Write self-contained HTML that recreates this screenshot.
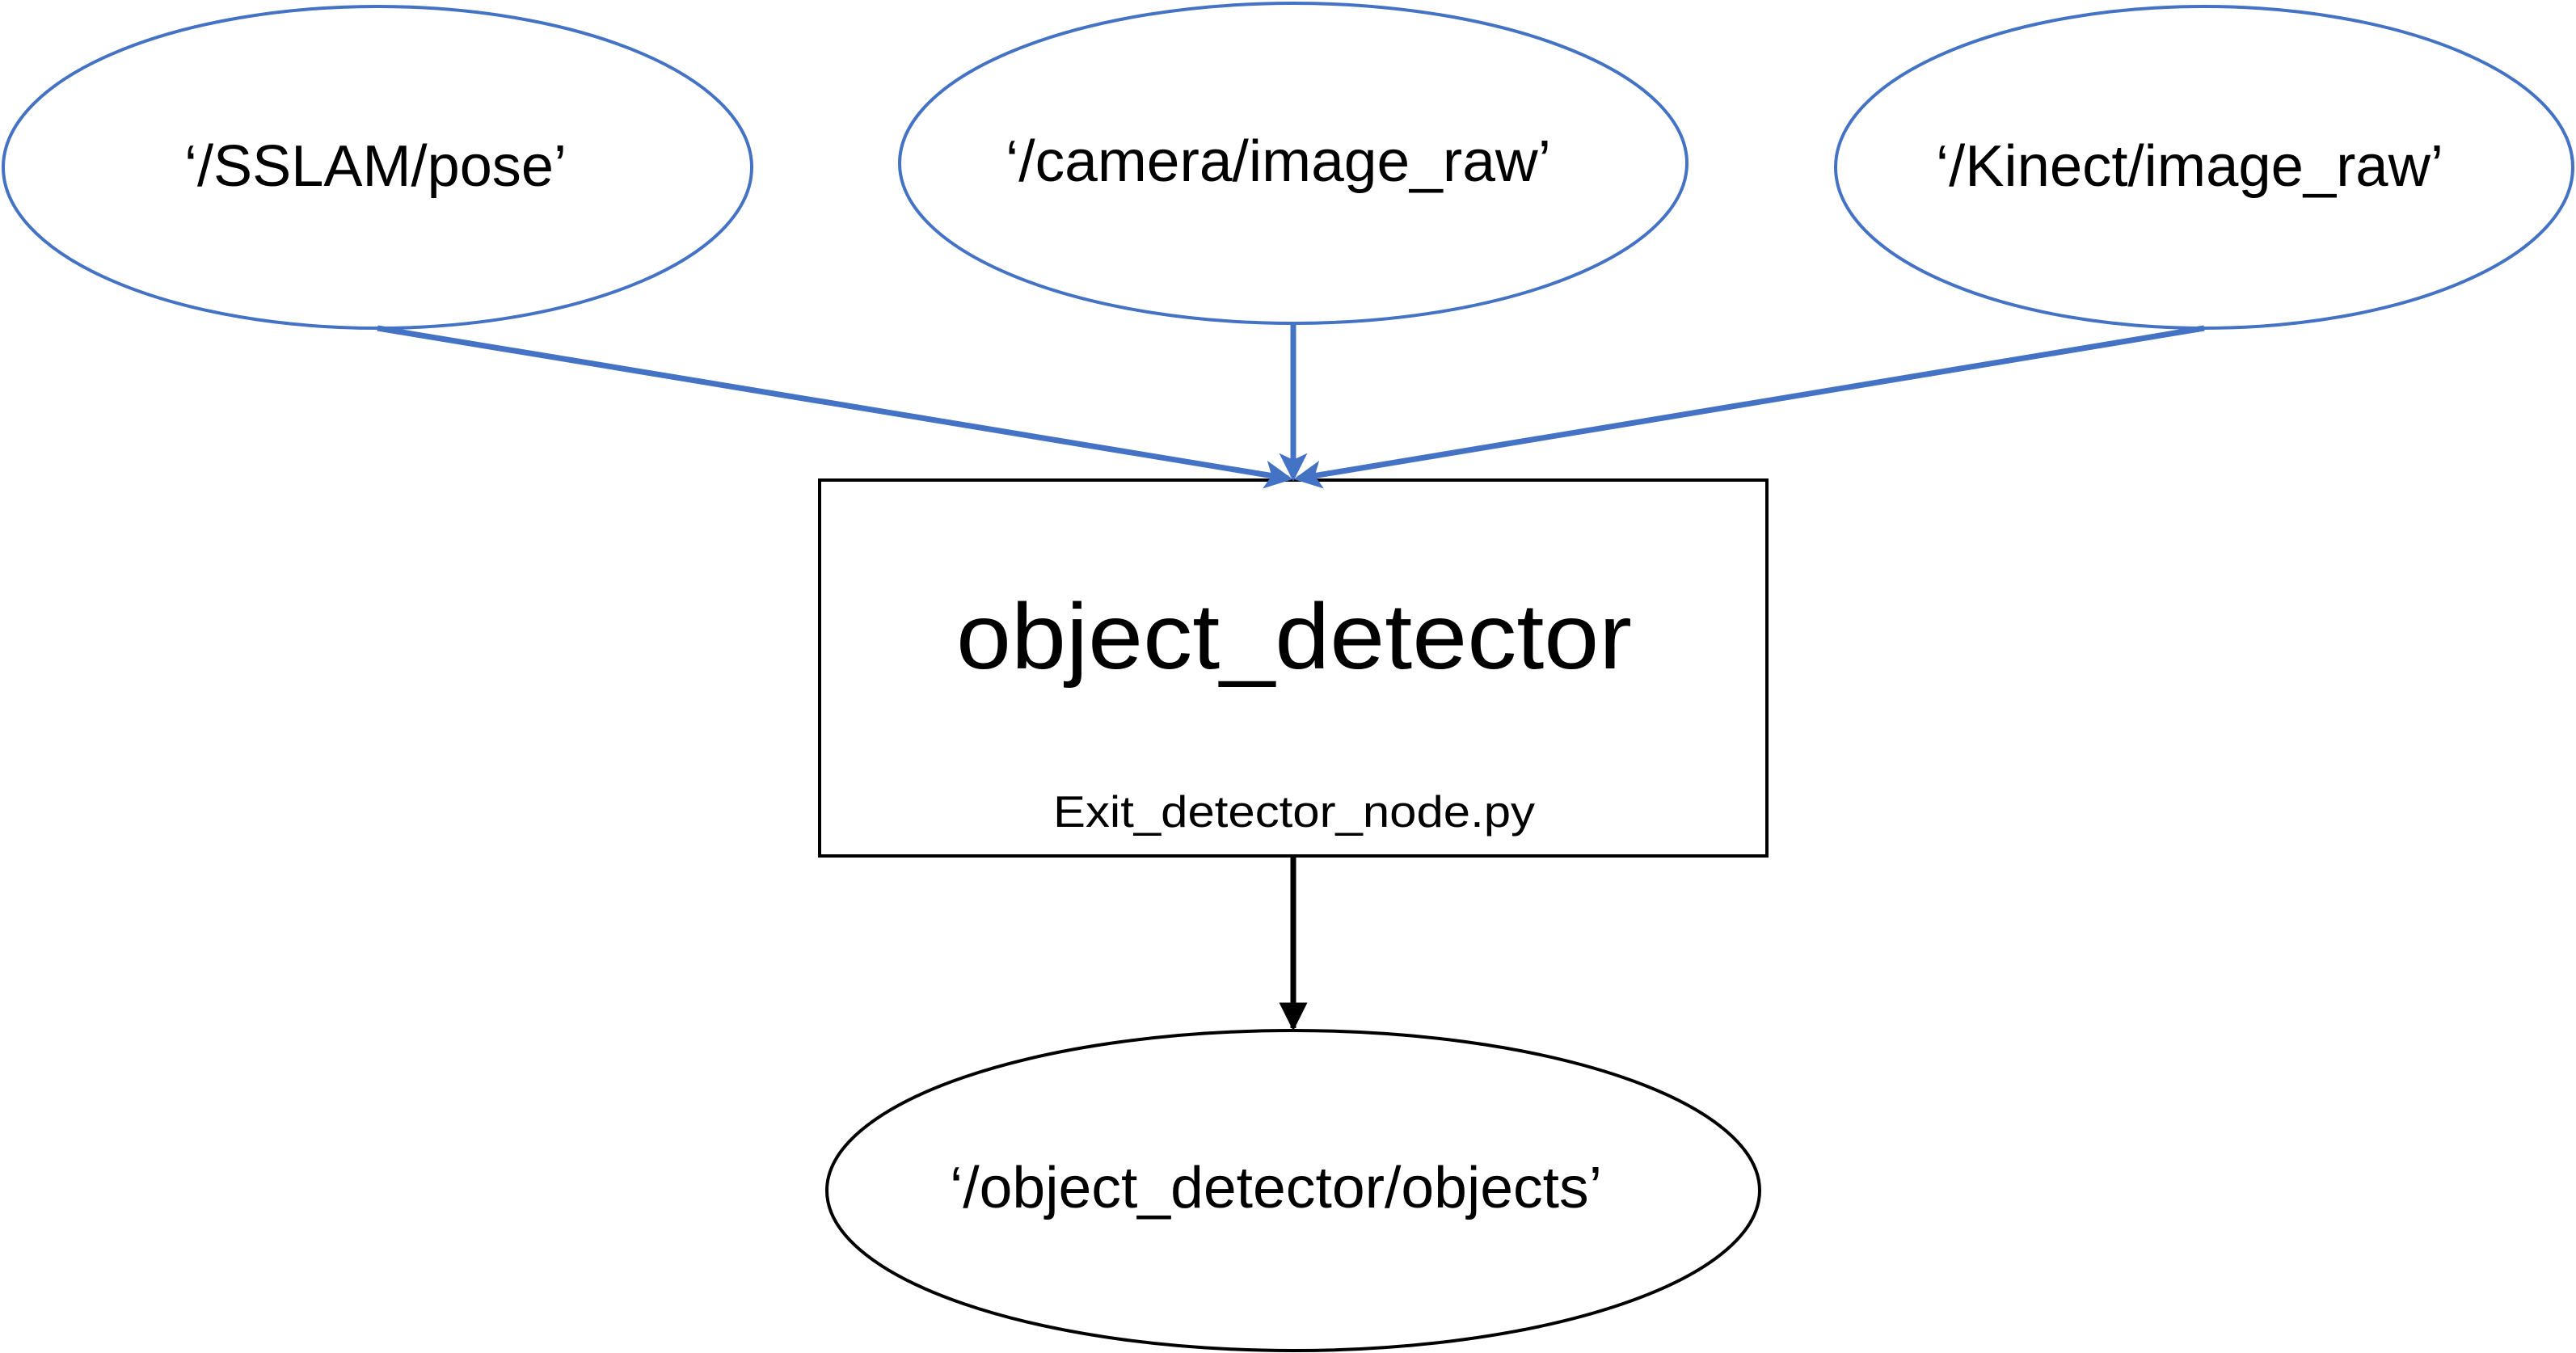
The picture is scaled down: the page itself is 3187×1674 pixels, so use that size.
<!DOCTYPE html>
<html><head><meta charset="utf-8"><style>
html,body{margin:0;padding:0;background:#fff;}
svg{display:block;}
text{font-family:"Liberation Sans",sans-serif;fill:#000;}
</style></head><body>
<svg width="3187" height="1674" viewBox="0 0 3187 1674" xmlns="http://www.w3.org/2000/svg">
<defs>
<marker id="ab" markerWidth="5" markerHeight="5" refX="4.2" refY="2.5" orient="auto" markerUnits="strokeWidth">
<path d="M0,0 L5,2.5 L0,5 L1.2,2.5 z" fill="#4472C4"/></marker>
<marker id="ak" markerWidth="5" markerHeight="5" refX="4.5" refY="2.5" orient="auto" markerUnits="strokeWidth">
<path d="M0,0 L5,2.5 L0,5 z" fill="#000"/></marker>
</defs>
<ellipse cx="467" cy="207" rx="463" ry="199" fill="none" stroke="#4472C4" stroke-width="4"/>
<ellipse cx="1600" cy="202" rx="487" ry="198" fill="none" stroke="#4472C4" stroke-width="4"/>
<ellipse cx="2727" cy="207" rx="456" ry="199" fill="none" stroke="#4472C4" stroke-width="4"/>
<rect x="1014" y="594" width="1172" height="465" fill="none" stroke="#000" stroke-width="4"/>
<ellipse cx="1600" cy="1473" rx="577" ry="198" fill="none" stroke="#000" stroke-width="4"/>
<line x1="467" y1="406" x2="1594" y2="592" stroke="#4472C4" stroke-width="7" marker-end="url(#ab)"/>
<line x1="1600" y1="400" x2="1600" y2="590" stroke="#4472C4" stroke-width="7" marker-end="url(#ab)"/>
<line x1="2727" y1="406" x2="1606" y2="592" stroke="#4472C4" stroke-width="7" marker-end="url(#ab)"/>
<line x1="1600" y1="1059" x2="1600" y2="1272" stroke="#000" stroke-width="7" marker-end="url(#ak)"/>
<text x="228" y="230" font-size="72" textLength="473" lengthAdjust="spacingAndGlyphs">‘/SSLAM/pose’</text>
<text x="1244" y="224" font-size="72" textLength="675" lengthAdjust="spacingAndGlyphs">‘/camera/image_raw’</text>
<text x="2395" y="230" font-size="72" textLength="628" lengthAdjust="spacingAndGlyphs">‘/Kinect/image_raw’</text>
<text x="1183" y="827" font-size="115" textLength="836" lengthAdjust="spacingAndGlyphs">object_detector</text>
<text x="1303" y="1023" font-size="55" textLength="596" lengthAdjust="spacingAndGlyphs">Exit_detector_node.py</text>
<text x="1175" y="1494" font-size="72" textLength="807" lengthAdjust="spacingAndGlyphs">‘/object_detector/objects’</text>
</svg>
</body></html>
